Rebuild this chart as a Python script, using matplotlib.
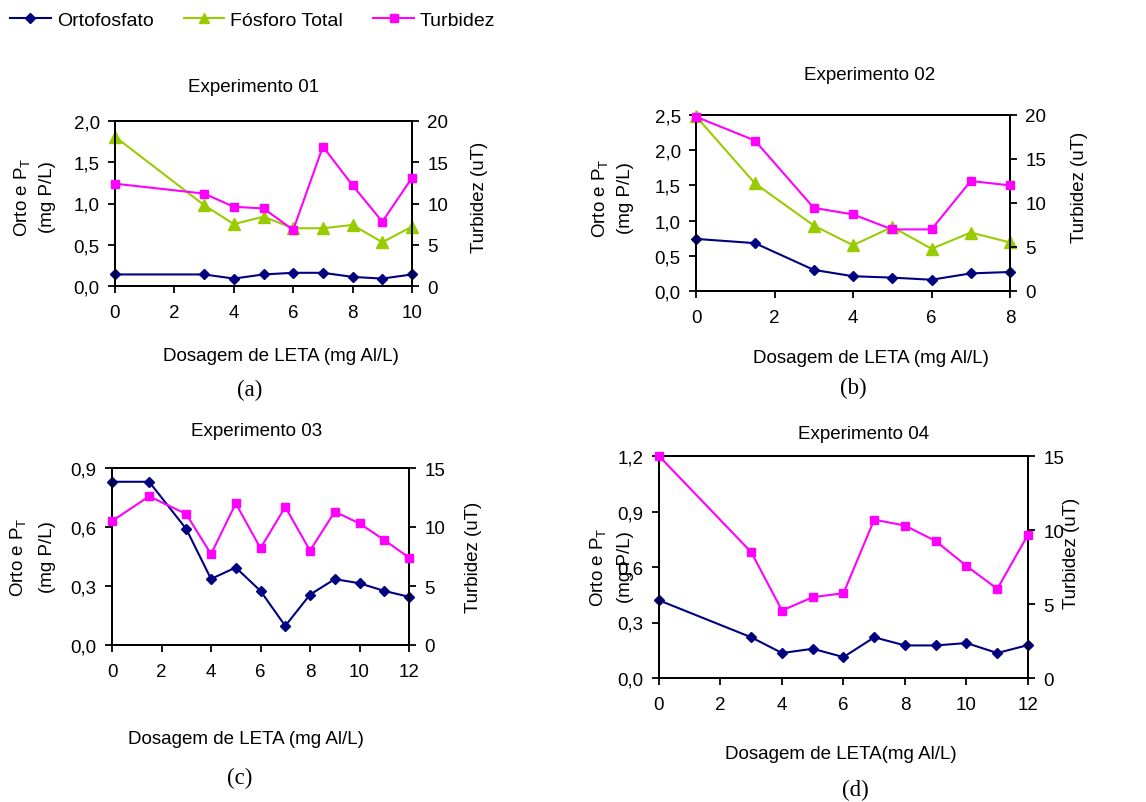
import matplotlib
matplotlib.use("Agg")
import matplotlib.pyplot as plt
from matplotlib.ticker import FuncFormatter, MultipleLocator
from matplotlib.lines import Line2D

plt.rcParams['font.family'] = ['Liberation Sans', 'DejaVu Sans']
plt.rcParams['mathtext.fontset'] = 'custom'
plt.rcParams['mathtext.rm'] = 'Liberation Sans'
plt.rcParams['mathtext.it'] = 'Liberation Sans'

# Experimento 01
dose_01 = [0, 3, 4, 5, 6, 7, 8, 9, 10]
orto_01 = [0.14, 0.14, 0.09, 0.14, 0.16, 0.16, 0.11, 0.09, 0.14]
pt_01 = [1.81, 0.98, 0.75, 0.84, 0.70, 0.70, 0.74, 0.53, 0.72]
turb_01 = [12.4, 11.2, 9.6, 9.4, 6.8, 16.9, 12.2, 7.8, 13.1]

# Experimento 02
dose_02 = [0, 1.5, 3, 4, 5, 6, 7, 8]
orto_02 = [0.74, 0.68, 0.30, 0.21, 0.19, 0.16, 0.25, 0.27]
pt_02 = [2.48, 1.53, 0.93, 0.65, 0.91, 0.60, 0.83, 0.69]
turb_02 = [19.8, 17.1, 9.45, 8.7, 7.0, 7.0, 12.5, 12.0]

# Experimento 03
dose_03 = [0, 1.5, 3, 4, 5, 6, 7, 8, 9, 10, 11, 12]
orto_03 = [0.83, 0.83, 0.59, 0.336, 0.394, 0.275, 0.097, 0.256, 0.335, 0.314, 0.275, 0.245]
turb_03 = [10.5, 12.6, 11.1, 7.7, 12.0, 8.2, 11.7, 8.0, 11.3, 10.3, 8.9, 7.4]

# Experimento 04
dose_04 = [0, 3, 4, 5, 6, 7, 8, 9, 10, 11, 12]
orto_04 = [0.42, 0.22, 0.135, 0.158, 0.113, 0.22, 0.176, 0.176, 0.189, 0.135, 0.178]
turb_04 = [15.0, 8.5, 4.56, 5.46, 5.73, 10.7, 10.3, 9.25, 7.57, 6.02, 9.68]

C_ORTO = '#000080'
C_PT = '#99CC00'
C_TURB = '#FF00FF'
FS = 13.5
LW = 1.5

W, H = 1146, 803
fig = plt.figure(figsize=(W / 100, H / 100), dpi=100)


def px(x, y):
    return x / W, 1 - y / H


def make_axes(left, top, right, bottom):
    return fig.add_axes([left / W, 1 - bottom / H, (right - left) / W, (bottom - top) / H])


comma = FuncFormatter(lambda v, _: f"{v:.1f}".replace('.', ','))


def panel(box, dose, orto, turb, pt, xmax, xstep, ymax, ystep, tmax, tstep):
    ax = make_axes(*box)
    ax.plot(dose, orto, color=C_ORTO, marker='D', ms=5.5, lw=LW, clip_on=False, zorder=3)
    if pt is not None:
        ax.plot(dose, pt, color=C_PT, marker='^', ms=8, lw=LW, clip_on=False, zorder=3)
    ax.set_xlim(0, xmax)
    ax.set_ylim(0, ymax)
    ax.xaxis.set_major_locator(MultipleLocator(xstep))
    ax.yaxis.set_major_locator(MultipleLocator(ystep))
    ax.yaxis.set_major_formatter(comma)
    ax.tick_params(axis='y', direction='out', length=5, width=1.3, pad=6, labelsize=FS)
    ax.tick_params(axis='x', direction='out', length=5, width=1.3, pad=8, labelsize=FS)
    for s in ax.spines.values():
        s.set_linewidth(1.4)

    tx = ax.twinx()
    tx.plot(dose, turb, color=C_TURB, marker='s', ms=6, lw=LW, clip_on=False, zorder=3)
    tx.set_ylim(0, tmax)
    tx.yaxis.set_major_locator(MultipleLocator(tstep))
    tx.tick_params(axis='y', direction='out', length=5, width=1.3, pad=6, labelsize=FS)
    for s in tx.spines.values():
        s.set_linewidth(1.4)
    return ax


def labels(title, tpos, xlab, xpos, tag, gpos, ypos1, ypos2, rpos):
    fig.text(*px(*tpos), title, ha='center', va='center', fontsize=FS)
    fig.text(*px(*xpos), xlab, ha='center', va='center', fontsize=FS)
    fig.text(*px(*gpos), tag, ha='center', va='center', fontsize=16.5,
             family='Liberation Serif')
    fig.text(*px(*ypos1), r'Orto e P$_\mathrm{T}$', rotation=90,
             ha='center', va='center', fontsize=FS)
    fig.text(*px(*ypos2), '(mg P/L)', rotation=90, ha='center', va='center', fontsize=FS)
    fig.text(*px(*rpos), 'Turbidez (uT)', rotation=90, ha='center', va='center', fontsize=FS)


panel((115, 122, 412, 287), dose_01, orto_01, turb_01, pt_01, 10, 2, 2.0, 0.5, 20, 5)
labels('Experimento 01', (254, 87), 'Dosagem de LETA (mg Al/L)', (281, 357), '(a)', (250, 390),
       (22, 197), (48, 197), (479, 197))

panel((696, 116, 1010, 292), dose_02, orto_02, turb_02, pt_02, 8, 2, 2.5, 0.5, 20, 5)
labels('Experimento 02', (870, 75), 'Dosagem de LETA (mg Al/L)', (871, 359), '(b)', (853, 388),
       (600, 198), (626, 198), (1079, 187))

panel((112, 469, 409, 646), dose_03, orto_03, turb_03, None, 12, 2, 0.9, 0.3, 15, 5)
labels('Experimento 03', (257, 432), 'Dosagem de LETA (mg Al/L)', (246, 740), '(c)', (240, 778),
       (18, 557), (47, 557), (474, 557))

panel((659, 457, 1028, 679), dose_04, orto_04, turb_04, None, 12, 2, 1.2, 0.3, 15, 5)
labels('Experimento 04', (864, 435), 'Dosagem de LETA(mg Al/L)', (841, 755), '(d)', (855, 790),
       (598, 567), (625, 567), (1071, 553))

handles = [
    Line2D([], [], color=C_ORTO, marker='D', ms=5, lw=LW),
    Line2D([], [], color=C_PT, marker='^', ms=7, lw=LW),
    Line2D([], [], color=C_TURB, marker='s', ms=5.5, lw=LW),
]
fig.legend(handles, ['Ortofosfato', 'Fósforo Total', 'Turbidez'], loc='center left',
           bbox_to_anchor=px(10, 21), ncol=3, frameon=False, fontsize=14,
           handlelength=2.1, handletextpad=0.3, columnspacing=1.55, borderaxespad=0,
           borderpad=0)

fig.savefig('out.png', dpi=100)
